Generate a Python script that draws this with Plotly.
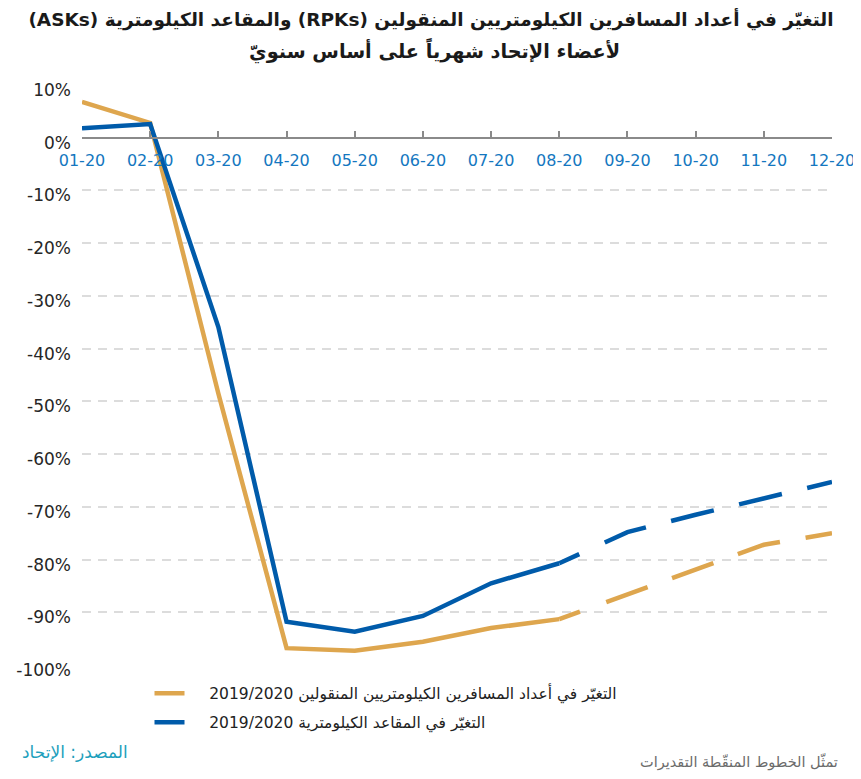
import plotly.graph_objects as go

# ---------------- data ----------------
months = ["01-20", "02-20", "03-20", "04-20", "05-20", "06-20",
          "07-20", "08-20", "09-20", "10-20", "11-20", "12-20"]
rpk_change = [6.8, 2.8, -48.5, -96.8, -97.3, -95.6, -93.0, -91.3, -86.6, -81.9, -77.2, -75.0]
ask_change = [1.8, 2.6, -35.9, -91.8, -93.7, -90.7, -84.5, -80.7, -74.8, -71.5, -68.4, -65.3]
last_actual = "08-20"          # months after this one are estimates (dashed)
y_ticks = [10, 0, -10, -20, -30, -40, -50, -60, -70, -80, -90, -100]
y_tick_labels = ["10%", "0%", "-10%", "-20%", "-30%", "-40%", "-50%",
                 "-60%", "-70%", "-80%", "-90%", "-100%"]

rpk_name = "التغيّر في أعداد المسافرين الكيلومتريين المنقولين 2019/2020"
ask_name = "التغيّر في المقاعد الكيلومترية 2019/2020"
title_l1 = "التغيّر في أعداد المسافرين الكيلومتريين المنقولين (RPKs) والمقاعد الكيلومترية (ASKs)"
title_l2 = "لأعضاء الإتحاد شهرياً على أساس سنويّ"
source_txt = "المصدر: الإتحاد"
note_txt = "تمثّل الخطوط المنقّطة التقديرات"

RLE, PDF = "\u202B", "\u202C"
def rtl(s, pad=0):
    return RLE + s + "\u00A0" * pad + PDF

ORANGE = "#DEA64E"
BLUE = "#005BAA"
AR_FONT = "DejaVu Sans"
NUM_FONT = "'DejaVu Sans', sans-serif"

y_min, y_max = -100, 10
split = months.index(last_actual)
dash_pattern = "22px,28px,44px,26px,44px,26px,44px,26px,44px,26px,44px,26px"

fig = go.Figure()
for i, (name, vals, col) in enumerate([(rpk_name, rpk_change, ORANGE),
                                       (ask_name, ask_change, BLUE)]):
    fig.add_trace(go.Scatter(
        x=months[:split + 1], y=vals[:split + 1], mode="lines", name=rtl(name, 4),
        legendgroup=f"g{i}",
        line=dict(color=col, width=4.5), showlegend=True, hoverinfo="skip"))
    fig.add_trace(go.Scatter(
        x=months[split:], y=vals[split:], mode="lines", name=rtl(name, 4),
        legendgroup=f"g{i}",
        line=dict(color=col, width=4.5, dash=dash_pattern), showlegend=False,
        hoverinfo="skip"))

# the page body adds an 8px offset, so figure positions are shifted by -8px
fig.update_layout(
    width=861, height=779,
    paper_bgcolor="white", plot_bgcolor="white",
    margin=dict(l=74, r=37, t=77, b=122, autoexpand=False),
    title=dict(
        text=rtl(title_l1),
        x=(431 - 8) / 861, xanchor="center", xref="container", yref="container",
        y=1 - 12 / 779, yanchor="middle",
        font=dict(family=AR_FONT, size=18.5, color="#1a1a1a", weight="bold")),
    xaxis=dict(
        type="category", categoryorder="array", categoryarray=months,
        range=[0, len(months) - 1], automargin=False,
        anchor="free", position=(0 - y_min) / (y_max - y_min), side="bottom",
        showline=True, linecolor="#8a8a8a", linewidth=2,
        ticks="inside", ticklen=6, tickwidth=1.5, tickcolor="#8a8a8a",
        showgrid=False, zeroline=False,
        tickfont=dict(family=NUM_FONT, size=16, color="#1477C0"),
        ticklabelstandoff=8),
    yaxis=dict(
        range=[y_min, y_max], tickmode="array", tickvals=y_ticks, ticktext=y_tick_labels,
        automargin=False,
        showgrid=True, gridcolor="#dcdcdc", gridwidth=2, griddash="9px,7px",
        zeroline=False, showline=False, ticks="",
        tickfont=dict(family=NUM_FONT, size=17, color="#262626"),
        ticklabelstandoff=10, ticklabelshift=5),
    legend=dict(
        x=0.09, xanchor="left", y=-0.02, yanchor="top",
        font=dict(family=AR_FONT, size=15.5, color="#222222"),
        bgcolor="rgba(0,0,0,0)", itemwidth=30,
        traceorder="grouped", tracegroupgap=6),
    annotations=[
        dict(text=rtl(title_l2), xref="paper", yref="paper", x=(434 - 82) / 750,
             y=(665 - 51) / 580, xanchor="center", yanchor="middle", showarrow=False,
             font=dict(family=AR_FONT, size=19.3, color="#1a1a1a", weight="bold")),
        dict(text=rtl(source_txt), xref="paper", yref="paper", x=(20 - 82) / 750,
             y=(665 - 752) / 580, xanchor="left", yanchor="middle", showarrow=False,
             font=dict(family=AR_FONT, size=17, color="#1DA0BC")),
        dict(text=rtl(note_txt), xref="paper", yref="paper", x=(840 - 82) / 750,
             y=(665 - 762) / 580, xanchor="right", yanchor="middle", showarrow=False,
             font=dict(family=AR_FONT, size=14.5, color="#6b6b6b")),
    ],
)

fig.write_html("out.html")
